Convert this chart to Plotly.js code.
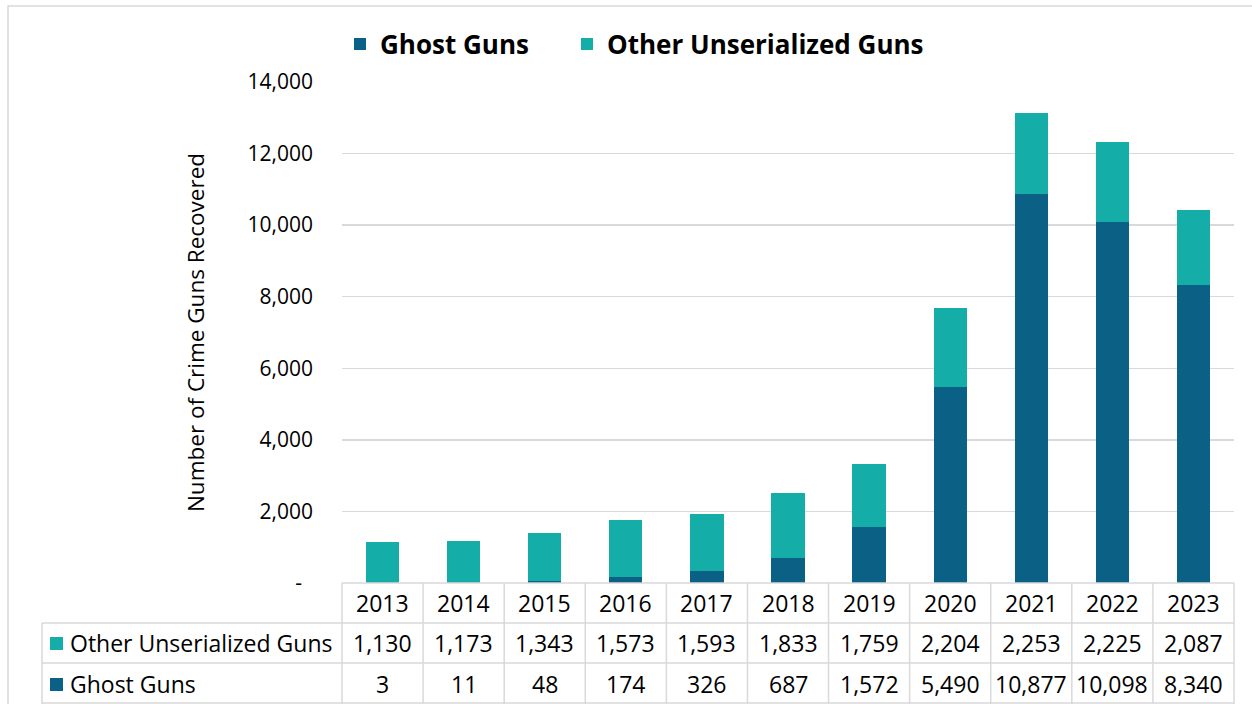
<!DOCTYPE html>
<html>
<head>
<meta charset="utf-8">
<script src="https://cdn.plot.ly/plotly-3.0.1.min.js"></script>
<style>html,body{margin:0;padding:0;background:#fff;}#chart{width:1252px;height:704px;}</style>
</head>
<body>
<div id="chart"></div>
<script>
const years = ['2013','2014','2015','2016','2017','2018','2019','2020','2021','2022','2023'];
const ghostGuns = [3, 11, 48, 174, 326, 687, 1572, 5490, 10877, 10098, 8340];
const otherUnserialized = [1130, 1173, 1343, 1573, 1593, 1833, 1759, 2204, 2253, 2225, 2087];
const seriesNames = ['Ghost Guns', 'Other Unserialized Guns'];
const seriesColors = ['#0B6185', '#14ADA7'];
const yTickVals = [0, 2000, 4000, 6000, 8000, 10000, 12000, 14000];
const yTickText = ['-\u00a0\u00a0', '2,000', '4,000', '6,000', '8,000', '10,000', '12,000', '14,000'];
const yTitle = 'Number of Crime Guns Recovered';

const FONT = '"Open Sans", "Noto Sans", sans-serif';
const W = 1252, H = 704;
const mL = 342, mR = 18, mT = 82, mB = 121;
const pw = W - mL - mR, ph = H - mT - mB;
const px2x = p => (p - mL) / pw;
const py2y = p => (H - mB - p) / ph;
const fmt = v => v.toLocaleString('en-US');

const traces = [
  {type: 'bar', name: seriesNames[0], x: years, y: ghostGuns, marker: {color: seriesColors[0]}, legend: 'legend'},
  {type: 'bar', name: seriesNames[1], x: years, y: otherUnserialized, marker: {color: seriesColors[1]}, legend: 'legend2'}
];

const lineColor = '#d9d9d9';
const shapes = [];
const annotations = [];
shapes.push({type: 'rect', xref: 'paper', yref: 'paper', x0: px2x(8), x1: px2x(1262), y0: py2y(714), y1: py2y(6), line: {color: lineColor, width: 1.5}, layer: 'below'});
const rowTop = [583, 623, 663, 703];
const labelLeft = 42;
const n = years.length;
const colCenter = i => (i + 0.5) / n;
shapes.push({type: 'line', xref: 'paper', yref: 'paper', x0: 0, x1: 1, y0: py2y(rowTop[0]), y1: py2y(rowTop[0]), line: {color: lineColor, width: 1.5}});
for (let r = 1; r < rowTop.length; r++) {
  shapes.push({type: 'line', xref: 'paper', yref: 'paper', x0: px2x(labelLeft), x1: 1, y0: py2y(rowTop[r]), y1: py2y(rowTop[r]), line: {color: lineColor, width: 1.5}});
}
for (let i = 0; i <= n; i++) {
  shapes.push({type: 'line', xref: 'paper', yref: 'paper', x0: i / n, x1: i / n, y0: py2y(rowTop[0]), y1: py2y(710), line: {color: lineColor, width: 1.5}});
}
shapes.push({type: 'line', xref: 'paper', yref: 'paper', x0: px2x(labelLeft), x1: px2x(labelLeft), y0: py2y(rowTop[1]), y1: py2y(710), line: {color: lineColor, width: 1.5}});

const rowCenters = [603, 643, 684];
const tableFont = {family: FONT, size: 23, color: '#000'};
years.forEach((yr, i) => {
  annotations.push({xref: 'paper', yref: 'paper', x: colCenter(i), y: py2y(rowCenters[0]), text: yr, showarrow: false, font: tableFont, xanchor: 'center', yanchor: 'middle'});
  annotations.push({xref: 'paper', yref: 'paper', x: colCenter(i), y: py2y(rowCenters[1]), text: fmt(otherUnserialized[i]), showarrow: false, font: tableFont, xanchor: 'center', yanchor: 'middle'});
  annotations.push({xref: 'paper', yref: 'paper', x: colCenter(i), y: py2y(rowCenters[2]), text: fmt(ghostGuns[i]), showarrow: false, font: tableFont, xanchor: 'center', yanchor: 'middle'});
});
const rowSeries = [1, 0];
rowSeries.forEach((s, k) => {
  const cy = rowCenters[k + 1];
  shapes.push({type: 'rect', xref: 'paper', yref: 'paper', x0: px2x(50), x1: px2x(63), y0: py2y(cy + 7), y1: py2y(cy - 6), fillcolor: seriesColors[s], line: {width: 0}});
  annotations.push({xref: 'paper', yref: 'paper', x: px2x(68), y: py2y(cy), text: seriesNames[s], showarrow: false, font: tableFont, xanchor: 'left', yanchor: 'middle'});
});

const legendFont = {family: FONT, size: 26, color: '#000', weight: 'bold'};
const layout = {
  width: W, height: H,
  margin: {l: mL, r: mR, t: mT, b: mB, pad: 0},
  paper_bgcolor: '#fff', plot_bgcolor: '#fff',
  barmode: 'stack',
  bargap: 0.59,
  font: {family: FONT, color: '#000'},
  showlegend: true,
  legend: {orientation: 'h', x: px2x(340), xanchor: 'left', y: py2y(44), yanchor: 'middle', font: legendFont},
  legend2: {orientation: 'h', x: px2x(567), xanchor: 'left', y: py2y(44), yanchor: 'middle', font: legendFont},
  xaxis: {type: 'category', showticklabels: false, showgrid: false, zeroline: false, showline: false, ticks: '', range: [-0.5, 10.5]},
  yaxis: {range: [0, 14000], tickvals: yTickVals, ticktext: yTickText, showgrid: true, gridcolor: lineColor, gridwidth: 1.5,
          zeroline: false, showline: false, ticks: '', ticklabelstandoff: 28,
          tickfont: {family: FONT, size: 21, color: '#000'},
          title: {text: yTitle, font: {family: FONT, size: 22.5, color: '#000'}, standoff: 36}},
  shapes: shapes,
  annotations: annotations
};

Plotly.newPlot('chart', traces, layout, {displayModeBar: false, staticPlot: true});
</script>
</body>
</html>
